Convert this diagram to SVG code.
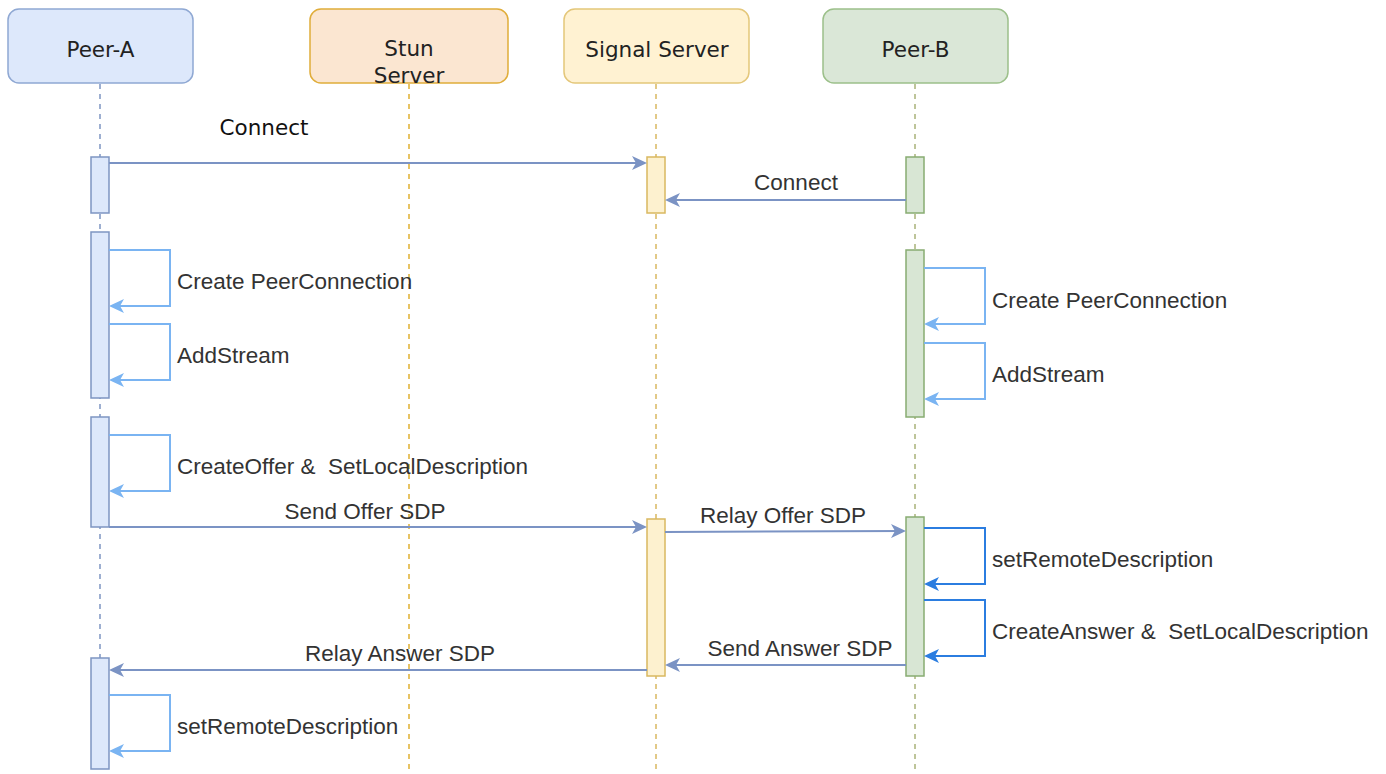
<svg xmlns="http://www.w3.org/2000/svg" width="1386" height="774" viewBox="0 0 1386 774">
<style>
.hdr{font-family:"DejaVu Sans",Verdana,sans-serif;font-size:21.5px;fill:#222;text-anchor:middle}
.lbl{font-family:"Liberation Sans",Arial,sans-serif;font-size:22.5px;fill:#333}
.dj{font-family:"DejaVu Sans",Verdana,sans-serif;font-size:21.5px;fill:#111}
.mid{text-anchor:middle}
.life{fill:none;stroke-width:1.5;stroke-dasharray:5 5}
.msg{fill:none;stroke:#7b93c4;stroke-width:2}
.self{fill:none;stroke:#7ab4f2;stroke-width:2}
.self2{fill:none;stroke:#2b7de0;stroke-width:2}
.actA{fill:#dde8fb;stroke:#7d95c2;stroke-width:1.5}
.actS{fill:#fdf1cf;stroke:#d9b860;stroke-width:1.5}
.actB{fill:#d8e6d4;stroke:#88ac72;stroke-width:1.5}
</style>
<defs>
<marker id="am" markerWidth="15" markerHeight="14" refX="13" refY="7" orient="auto" markerUnits="userSpaceOnUse"><path d="M0,0 L15,7 L0,14 L4,7 Z" fill="#7b93c4"/></marker>
<marker id="as" markerWidth="15" markerHeight="14" refX="13" refY="7" orient="auto" markerUnits="userSpaceOnUse"><path d="M0,0 L15,7 L0,14 L4,7 Z" fill="#7ab4f2"/></marker>
<marker id="as2" markerWidth="15" markerHeight="14" refX="13" refY="7" orient="auto" markerUnits="userSpaceOnUse"><path d="M0,0 L15,7 L0,14 L4,7 Z" fill="#2b7de0"/></marker>
</defs>
<rect width="1386" height="774" fill="#fff"/>

<g id="lifelines">
<line class="life" x1="100" y1="84" x2="100" y2="774" stroke="#7d95c2"/>
<line class="life" x1="409" y1="84" x2="409" y2="774" stroke="#e0b030"/>
<line class="life" x1="656" y1="84" x2="656" y2="774" stroke="#d9b860"/>
<line class="life" x1="915" y1="84" x2="915" y2="774" stroke="#a9b27a"/>
</g>

<g id="peer-a">
<rect x="8" y="9" width="185" height="74" rx="11" fill="#dde8fb" stroke="#8fa8d3" stroke-width="1.5"/>
<text class="hdr" x="100.5" y="57">Peer-A</text>
</g>
<g id="stun-server">
<rect x="310" y="9" width="198" height="74" rx="11" fill="#fbe6d1" stroke="#e0ad3a" stroke-width="1.5"/>
<text class="hdr" x="409" y="56">Stun</text>
<text class="hdr" x="409" y="83">Server</text>
</g>
<g id="signal-server">
<rect x="564" y="9" width="185" height="74" rx="11" fill="#fff2d2" stroke="#e4c77a" stroke-width="1.5"/>
<text class="hdr" x="657" y="57">Signal Server</text>
</g>
<g id="peer-b">
<rect x="823" y="9" width="185" height="74" rx="11" fill="#dae7d7" stroke="#9cc08a" stroke-width="1.5"/>
<text class="hdr" x="915.5" y="57">Peer-B</text>
</g>

<g id="activations">
<rect class="actA" x="91" y="157" width="18" height="56"/>
<rect class="actA" x="91" y="232" width="18" height="166"/>
<rect class="actA" x="91" y="417" width="18" height="110"/>
<rect class="actA" x="91" y="658" width="18" height="111"/>
<rect class="actS" x="647" y="157" width="18" height="56"/>
<rect class="actS" x="647" y="519" width="18" height="157"/>
<rect class="actB" x="906" y="157" width="18" height="56"/>
<rect class="actB" x="906" y="250" width="18" height="167"/>
<rect class="actB" x="906" y="517" width="18" height="159"/>
</g>

<g id="connectors">
<line class="msg" x1="109" y1="163" x2="645" y2="163" marker-end="url(#am)"/>
<line class="msg" x1="906" y1="200" x2="667" y2="200" marker-end="url(#am)"/>
<path class="self" d="M109,250 H170 V306 H111" marker-end="url(#as)"/>
<path class="self" d="M109,324 H170 V380 H111" marker-end="url(#as)"/>
<path class="self" d="M924,268 H985 V324 H926" marker-end="url(#as)"/>
<path class="self" d="M924,343 H985 V399 H926" marker-end="url(#as)"/>
<path class="self" d="M109,435 H170 V491 H111" marker-end="url(#as)"/>
<line class="msg" x1="109" y1="527" x2="645" y2="527" marker-end="url(#am)"/>
<line class="msg" x1="665" y1="532" x2="904" y2="531" marker-end="url(#am)"/>
<path class="self2" d="M924,528 H985 V584 H926" marker-end="url(#as2)"/>
<path class="self2" d="M924,600 H985 V656 H926" marker-end="url(#as2)"/>
<line class="msg" x1="906" y1="665" x2="667" y2="665" marker-end="url(#am)"/>
<line class="msg" x1="647" y1="670" x2="111" y2="670" marker-end="url(#am)"/>
<path class="self" d="M109,695 H170 V751 H111" marker-end="url(#as)"/>
</g>

<g id="labels">
<text class="dj mid" x="264" y="135">Connect</text>
<text class="lbl mid" x="796" y="190">Connect</text>
<text class="lbl" x="177" y="289">Create PeerConnection</text>
<text class="lbl" x="177" y="363">AddStream</text>
<text class="lbl" x="992" y="308">Create PeerConnection</text>
<text class="lbl" x="992" y="382">AddStream</text>
<text class="lbl" x="177" y="474" xml:space="preserve">CreateOffer &amp;  SetLocalDescription</text>
<text class="lbl mid" x="365" y="519">Send Offer SDP</text>
<text class="lbl mid" x="783" y="523">Relay Offer SDP</text>
<text class="lbl" x="992" y="567">setRemoteDescription</text>
<text class="lbl" x="992" y="639" xml:space="preserve">CreateAnswer &amp;  SetLocalDescription</text>
<text class="lbl mid" x="800" y="656">Send Answer SDP</text>
<text class="lbl mid" x="400" y="661">Relay Answer SDP</text>
<text class="lbl" x="177" y="734">setRemoteDescription</text>
</g>
</svg>
